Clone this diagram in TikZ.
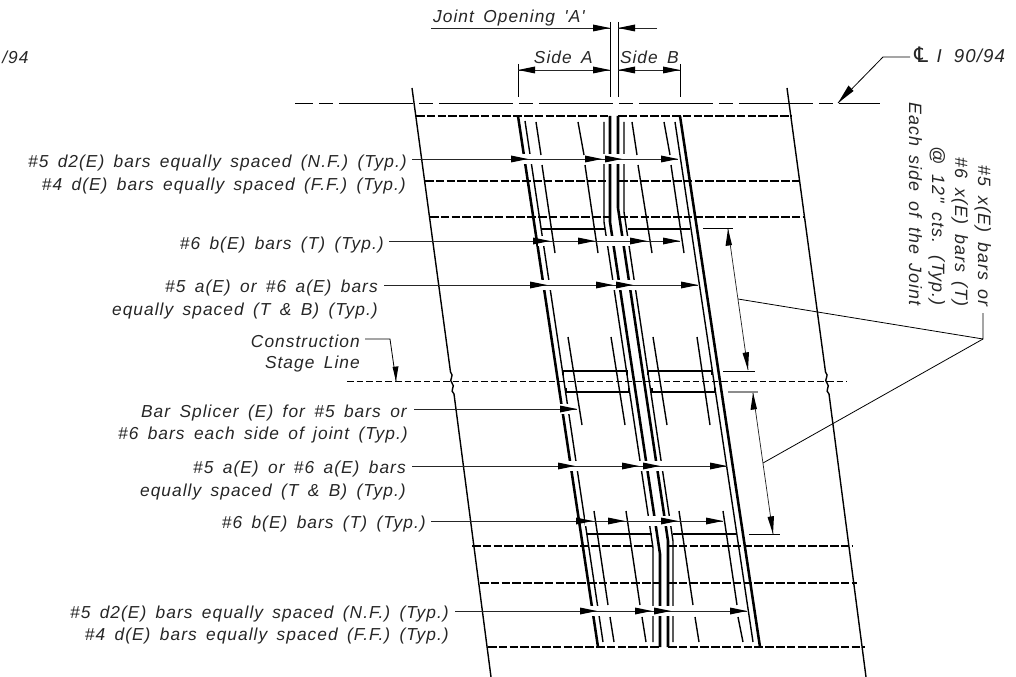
\documentclass[tikz,border=0pt]{standalone}
\usepackage{fontspec}
\setmainfont{Liberation Sans}
\newfontfamily\cadfont[LetterSpace=6,WordSpace=1.6]{Liberation Sans}
\newfontfamily\clfont{DejaVu Sans}
\begin{document}
\begin{tikzpicture}[x=0.75pt,y=-0.75pt,
  rebar/.style={line width=1.1pt,black},
  thick bar/.style={line width=1.9pt,black},
  thin bar/.style={line width=1.05pt,black},
  wiggle/.style={line width=1.05pt,black},
  dim/.style={line width=0.55pt,black!85},
  ext/.style={line width=0.6pt,black},
  lead/.style={line width=0.6pt,black},
  dashbar/.style={line width=0.95pt,black,dash pattern=on 6.5pt off 1.6pt},
  center/.style={line width=0.6pt,black,dash pattern=on 55.5pt off 4.5pt on 10.5pt off 4.5pt,dash phase=42pt},
  stageline/.style={line width=0.5pt,black,dash pattern=on 5pt off 2.2pt},
  halo/.style={white,line width=7pt},
  lab/.style={inner sep=0pt,font=\cadfont\itshape\fontsize{13}{13}\selectfont,text=black!85,anchor=base east},
  rlab/.style={inner sep=0pt,font=\cadfont\itshape\fontsize{13.4}{13.4}\selectfont,text=black!85,anchor=base east,rotate=-90}]
\newcommand{\hh}[2]{\fill[black] (#1,#2) -- ++(-17,-3.5) -- ++(0,7) -- cycle;}
\newcommand{\hr}[2]{\fill[black] (#1,#2) -- ++(17,-3.5) -- ++(0,7) -- cycle;}
\useasboundingbox (0,0) rectangle (1016,677);
\fill[white] (0,0) rectangle (1016,677);

% outer skew edges with wiggle
\draw[wiggle] (412,88) -- (450.5,372) .. controls (455,376) and (448,380) .. (452,383) .. controls (456,387) and (449,390) .. (454,394) -- (491,677);
\draw[wiggle] (787,88) -- (825.5,372) .. controls (830,376) and (823,380) .. (827,383) .. controls (831,387) and (824,390) .. (829,394) -- (866,677);

% centre line and stage line
\draw[center] (295,103) -- (880,103);
\draw[stageline] (347,381) -- (847,381);

% transverse dashed bars
\draw[dashbar] (416,116) -- (610,116); \draw[dashbar] (618,116) -- (791,116);
\draw[dashbar] (425,181) -- (610,181); \draw[dashbar] (619,181) -- (799,181);
\draw[dashbar] (430,217) -- (610,217); \draw[dashbar] (619,217) -- (804,217);
\draw[dashbar] (472,546) -- (654,546); \draw[dashbar] (668,546) -- (852,546);
\draw[dashbar] (480,583) -- (659,583); \draw[dashbar] (668,583) -- (857,583);
\draw[dashbar] (488,647) -- (660,647); \draw[dashbar] (668,647) -- (865,647);

% long bars
\draw[thick bar] (518,116) -- (598,647);
\draw[thin bar] (525,121) -- (603,642);
\draw[thick bar] (680,116) -- (760,647);
\draw[thin bar] (675,122) -- (753,642);

% joint bars
\draw[thin bar] (604,122) -- (604,222) -- (648,514) -- (653,548) -- (653,642);
\draw[thick bar] (610,116) -- (610,222) -- (654,514) -- (660,554) -- (660,647);
\draw[thick bar] (618,116) -- (618,208) -- (664,514) -- (668,541) -- (668,647);
\draw[thin bar] (624,122) -- (624,212) -- (669,514) -- (673,541) -- (673,642);

% transverse solid bars
\draw[rebar] (542,229) -- (605,229);
\draw[rebar] (628,229) -- (690,229);
\draw[rebar] (563,375) -- (563,371) -- (627,371) -- (627,375);
\draw[rebar] (648,375) -- (648,371) -- (712,371) -- (712,375);
\draw[rebar] (566,388) -- (566,392) -- (629,392) -- (629,388);
\draw[rebar] (652,388) -- (652,392) -- (715,392) -- (715,388);
\draw[rebar] (587,534) -- (652,534);
\draw[rebar] (673,534) -- (737,534);

% white gaps where the leaders cross
\draw[halo] (515,159) -- (630,159);
\draw[halo] (538,241) -- (660,241);
\draw[halo] (535,285) -- (640,285);
\draw[halo] (560,409) -- (580,409);
\draw[halo] (565,466) -- (668,466);
\draw[halo] (585,521) -- (682,521);
\draw[halo] (590,611) -- (682,611);

% short bars
\foreach \a/\b/\c/\d in {536/122/541/155,542/165/555/253,578/122/584/155,585/165/598/253,
  632/122/637/155,638/165/652/253,664/122/670/155,671/165/684/253,
  568/337/582/425,611/337/625/425,653/337/667/425,697/337/710/425,
  594/511/608/605,610/617/614/642,626/511/640/605,642/617/646/642,
  679/511/693/605,695/617/699/642,723/511/737/605,738/617/743/642}
  {\draw[thin bar] (\a,\b) -- (\c,\d);}

% dimension block at top
\draw[ext] (610,22) -- (610,97); \draw[ext] (618,22) -- (618,97);
\draw[ext] (518,64) -- (518,97); \draw[ext] (680,64) -- (680,97);
\node[lab] (jo) at (585,23) {Joint Opening 'A'};
\node[lab] (sa) at (593,64) {Side A};
\node[lab] (sb) at (679,64) {Side B};
\coordinate (joL) at (431,28); \coordinate (joT) at (610,28);
\coordinate (joR) at (657,28); \coordinate (joT2) at (618,28);
\draw[dim] (joL) -- (joT); \draw[dim] (joR) -- (joT2);
\hh{610}{28} \hr{618}{28}
\draw[dim] (518,70) -- (610,70); \draw[dim] (618,70) -- (680,70);
\hr{518}{70} \hh{610}{70} \hr{618}{70} \hh{680}{70}

\node[lab,anchor=base west] (frag) at (2,64) {/94};

% centre line label
\node[lab,anchor=base west,font=\cadfont\itshape\fontsize{14}{14}\selectfont] (cl) at (914,63) {{\clfont\upshape\fontsize{16}{16}\selectfont ℄}\hspace{6.5pt}I\hspace{9pt}90/94};
\coordinate (clA) at (910,57); \coordinate (clB) at (883,57); \coordinate (clT) at (838,103);
\draw[lead] (clA) -- (clB) -- (clT);
\fill[black] (838,103) -- (848.5,85.5) -- (853.5,91) -- cycle;

% rotated note
\node[rlab] (n1) at (978,307) {\#5 x(E) bars or};
\node[rlab] (n2) at (955,307) {\#6 x(E) bars (T)};
\node[rlab] (n3) at (932,306) {@ 12" cts. (Typ.)};
\node[rlab] (n4) at (909,306) {Each side of the Joint};
\coordinate (nA) at (983,313); \coordinate (nB) at (983,339);
\coordinate (nT1) at (738,299); \coordinate (nT2) at (763,463);
\draw[lead] (nA) -- (nB) -- (nT1);
\draw[lead] (nB) -- (nT2);

% right side dimensions
\draw[ext] (703,228) -- (733,228);
\draw[ext] (723,371) -- (755,371);
\draw[ext,black!45,line width=1pt] (728,392) -- (758,392);
\draw[ext] (749,534) -- (780,534);
\coordinate (dA) at (728,229); \coordinate (dB) at (748,370);
\coordinate (dC) at (753,393); \coordinate (dD) at (773,534);
\draw[dim] (dA) -- (dB); \draw[dim] (dC) -- (dD);
\fill[black] (728,229) -- ++(-2.5,17) -- ++(6.5,-1) -- cycle;
\fill[black] (748,370) -- ++(-5.5,-17) -- ++(6.5,-1) -- cycle;
\fill[black] (753,393) -- ++(-2.5,17) -- ++(6.5,-1) -- cycle;
\fill[black] (773,534) -- ++(-5.5,-17) -- ++(6.5,-1) -- cycle;

% labels and leaders
\node[lab] (l1) at (407,168) {\#5 d2(E) bars equally spaced (N.F.) (Typ.)};
\node[lab] (l2) at (406,191) {\#4 d(E) bars equally spaced (F.F.) (Typ.)};
\node[lab] (l3) at (384,249) {\#6 b(E) bars (T) (Typ.)};
\node[lab] (l4) at (378,292) {\#5 a(E) or \#6 a(E) bars};
\node[lab] (l5) at (378,315) {equally spaced (T \& B) (Typ.)};
\node[lab] (l6) at (360,347) {Construction};
\node[lab] (l7) at (360,368) {Stage Line};
\node[lab] (l8) at (407,417) {Bar Splicer (E) for \#5 bars or};
\node[lab] (l9) at (408,439) {\#6 bars each side of joint (Typ.)};
\node[lab] (l10) at (406,473) {\#5 a(E) or \#6 a(E) bars};
\node[lab] (l11) at (406,496) {equally spaced (T \& B) (Typ.)};
\node[lab] (l12) at (426,528) {\#6 b(E) bars (T) (Typ.)};
\node[lab] (l13) at (449,618) {\#5 d2(E) bars equally spaced (N.F.) (Typ.)};
\node[lab] (l14) at (449,640) {\#4 d(E) bars equally spaced (F.F.) (Typ.)};

\coordinate (a1) at (412,159); \coordinate (e1) at (678,159);
\coordinate (a3) at (389,241); \coordinate (e3) at (680,241);
\coordinate (a4) at (384,285); \coordinate (e4) at (698,285);
\coordinate (a8) at (414,409); \coordinate (e8) at (577,409);
\coordinate (a10) at (412,466); \coordinate (e10) at (727,466);
\coordinate (a12) at (431,521); \coordinate (e12) at (723,521);
\coordinate (a13) at (455,611); \coordinate (e13) at (747,611);
\draw[dim] (a1) -- (e1); \draw[dim] (a3) -- (e3); \draw[dim] (a4) -- (e4);
\draw[dim] (a8) -- (e8); \draw[dim] (a10) -- (e10); \draw[dim] (a12) -- (e12); \draw[dim] (a13) -- (e13);
\foreach \x/\y in {528/159,602/159,622/159,678/159,550/241,595/241,647/241,680/241,
  547/285,613/285,633/285,698/285,577/409,575/466,639/466,660/466,727/466,
  593/521,625/521,678/521,723/521,597/611,652/611,671/611,747/611}
  {\hh{\x}{\y}}
\coordinate (s1) at (365,339); \coordinate (s2) at (390,339); \coordinate (s3) at (396,381);
\draw[lead] (s1) -- (s2) -- (s3);
\fill[black] (396,381) -- ++(-3.5,-14) -- ++(6,-0.8) -- cycle;
\end{tikzpicture}
\end{document}
